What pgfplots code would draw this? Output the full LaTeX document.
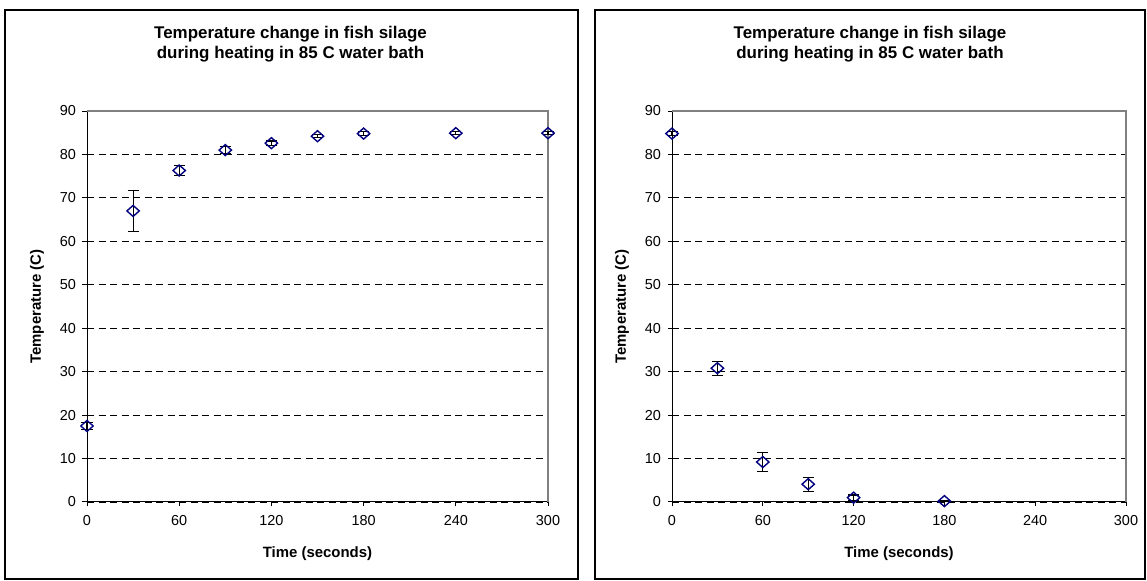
\documentclass[border=0pt]{standalone}
\usepackage{pgfplots}
\pgfplotsset{compat=1.18}
\usepackage{fontspec}
\setmainfont{Liberation Sans}
\definecolor{markblue}{RGB}{0,0,128}
\definecolor{frame}{RGB}{128,128,128}

% heating: time (s), temperature (C), standard deviation
\pgfplotstableread{
t T e
0 17.5 0.9
30 67.0 4.7
60 76.3 1.2
90 81.0 0.8
120 82.6 0.5
150 84.2 0.4
180 84.8 0.4
240 84.9 0.3
300 84.9 0.3
}\heating

% cooling: time (s), temperature (C), standard deviation
\pgfplotstableread{
t T e
0 84.8 0.5
30 30.8 1.6
60 9.2 2.1
90 4.1 1.6
120 1.0 0.6
180 0.2 0.15
}\cooling

\pgfplotsset{
  silage/.style={
    scale only axis,
    anchor=south west,
    height=391bp,
    xmin=0, xmax=300, ymin=0, ymax=90,
    xtick={0,60,...,300},
    ytick={0,10,...,90},
    axis lines*=left,
    axis line style={black, line width=1bp},
    tick style={black, line width=1bp},
    tick align=outside,
    major tick length=4.5bp,
    ymajorgrids,
    grid style={black, line width=0.8bp, dash pattern=on 7bp off 4.5bp},
    tick label style={font=\fontsize{14.5}{16}\selectfont},
    xticklabel style={yshift=-5bp},
    yticklabel style={xshift=-3bp},
    /pgf/number format/assume math mode=true,
    clip=false,
  },
  datapts/.style={
    only marks,
    mark=diamond,
    mark size=5.5bp,
    mark options={draw=markblue, fill=none, xscale=1.5, line width=1.4bp},
    error bars/.cd,
      y dir=both, y explicit,
      error mark=|,
      error bar style={black, line width=1.1bp},
      error mark options={black, line width=1.1bp, mark size=5.5bp},
  },
}

\begin{document}
\begin{tikzpicture}
% panel frames
\draw[black, line width=1.5bp] (5bp,2bp) rectangle (578bp,571bp);
\draw[black, line width=1.5bp] (595bp,2bp) rectangle (1145bp,571bp);

% heating panel
\begin{axis}[silage, at={(87bp,79bp)}, width=461bp]
\draw[frame, line width=1.2bp] (rel axis cs:0,1) -- (rel axis cs:1,1) -- (rel axis cs:1,0);
\addplot[datapts] table[x=t, y=T, y error=e] {\heating};
\end{axis}

% cooling panel
\begin{axis}[silage, at={(672bp,79bp)}, width=454bp]
\draw[frame, line width=1.2bp] (rel axis cs:0,1) -- (rel axis cs:1,1) -- (rel axis cs:1,0);
\addplot[datapts] table[x=t, y=T, y error=e] {\cooling};
\end{axis}

% titles and axis labels
\foreach \cx/\px/\py in {290.5/317.5/37, 870/899/622} {
  \node[anchor=base, font=\fontsize{17}{19}\selectfont\bfseries] at (\cx bp,542bp) {Temperature change in fish silage};
  \node[anchor=base, font=\fontsize{17}{19}\selectfont\bfseries] at (\cx bp,522bp) {during heating in 85 C water bath};
  \node[anchor=base, font=\fontsize{15}{17}\selectfont\bfseries] at (\px bp,24bp) {Time (seconds)};
  \node[rotate=90, font=\fontsize{15}{17}\selectfont\bfseries] at (\py bp,274.5bp) {Temperature (C)};
}

\pgfresetboundingbox
\path (0,0) rectangle (1147bp,581bp);
\end{tikzpicture}
\end{document}
